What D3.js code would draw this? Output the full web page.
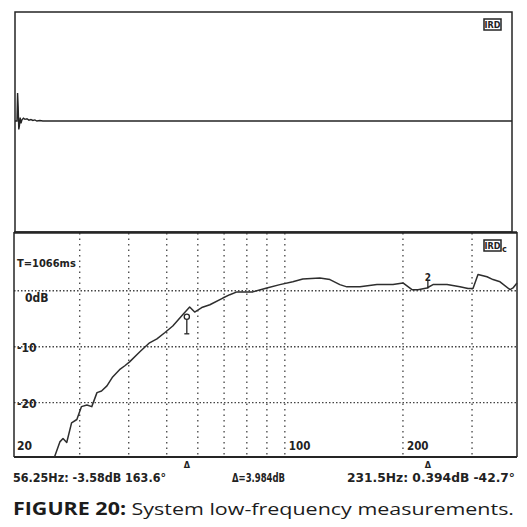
<!DOCTYPE html>
<html><head><meta charset="utf-8">
<script src="https://cdn.jsdelivr.net/npm/d3@7"></script>
<style>
html,body{margin:0;padding:0;background:#fff;}
svg{display:block;}
.mono{font-family:"DejaVu Sans Condensed","Liberation Sans Narrow",sans-serif;font-weight:bold;fill:#222;}
</style></head>
<body>
<svg id="c" width="527" height="527"></svg>
<script>
// ---- data ----
const freqHz = [25.9,26.7,27.2,27.8,28.6,29.5,30.3,31.3,32.2,33.2,34.1,35.2,36.4,37.9,39.1,40.2,42.7,45.2,47.2,49.4,51.8,54.9,57.2,58.9,61.4,64.4,69.5,72.4,75.5,82.9,90.0,97.1,104.8,111.1,122.8,130.3,138.1,143.9,155.4,171.7,188.6,200,210.9,218.5,230.2,238.6,259.1,279.5,293.0,301.7,310.7,327.6,339.3,353.6,375.0,381.6,390.6];
const levelDb = [-29.6,-27.0,-26.4,-27.1,-23.6,-23.0,-20.7,-20.4,-20.7,-18.2,-17.9,-17.0,-15.4,-14.1,-13.4,-12.7,-10.9,-9.3,-8.6,-7.5,-6.3,-4.3,-2.9,-3.8,-3.0,-2.5,-1.3,-0.7,-0.2,-0.2,0.5,1.1,1.6,2.1,2.3,2.0,1.1,0.7,0.7,1.1,1.1,1.4,0.2,0.2,0.5,1.1,1.1,0.7,0.4,0.4,2.9,2.5,2.0,1.6,0.2,0.5,1.4];
const impulseMs = [0,2.0,2.6,3.2,3.8,4.4,5.2,6.0,7.0,8.5,10,12,14,16,18,20,22,25,28,500];
const impulseAmp = [0,0,1.0,0.5,-0.3,-0.18,0.12,-0.08,0.04,0.1,0.06,0.08,0.03,0.05,0.02,0.04,0.0,0.02,0,0];
const freqGrid = [30,40,50,60,70,80,90,100,200,300];
const freqLabels = [100,200];
const dbGrid = [0,-10,-20];
const dbLabels = ["0dB","-10","-20","20"];
const dbLabelVals = [0,-10,-20,-27.5];
const markerHz = [56.25,231.5];
const markerDb = [-3.58,0.394];
const readouts = ["56.25Hz: -3.58dB  163.6°","Δ=3.984dB","231.5Hz: 0.394dB -42.7°"];
const caption = ["FIGURE 20:"," System low-frequency measurements."];
const timeLabel = "T=1066ms";

// ---- scales ----
const svg = d3.select("#c");
const ink = "#252525";
const x = d3.scaleLog().domain([20.4,390.6]).range([14,517]);
const y = d3.scaleLinear().domain([10.5,-29.7]).range([232,457]);
const tx = d3.scaleLinear().domain([0,500]).range([15,512]);
const ty = d3.scaleLinear().domain([-1,1]).range([149,93]);

// ---- top panel ----
svg.append("rect").attr("x",15).attr("y",12).attr("width",497).attr("height",220)
  .attr("fill","none").attr("stroke",ink).attr("stroke-width",1.5);
const imp = impulseMs.map((t,i)=>[t,impulseAmp[i]]);
svg.append("path").datum(imp)
  .attr("d",d3.line().x(d=>tx(d[0])).y(d=>ty(d[1])))
  .attr("fill","none").attr("stroke",ink).attr("stroke-width",1.4);
function badge(g,bx,by,sub){
  g.append("rect").attr("x",bx).attr("y",by).attr("width",17).attr("height",11)
    .attr("fill","#fff").attr("stroke",ink).attr("stroke-width",1.5);
  g.append("text").attr("x",bx+8.5).attr("y",by+9).attr("text-anchor","middle")
    .attr("class","mono").attr("font-size",9).text("IRD");
  if(sub) g.append("text").attr("x",bx+18).attr("y",by+12).attr("class","mono").attr("font-size",9).text(sub);
}
badge(svg,484,19,"");

// ---- bottom panel ----
const bp = svg.append("g");
bp.selectAll(".vg").data(freqGrid).enter().append("line")
  .attr("x1",d=>x(d)).attr("x2",d=>x(d)).attr("y1",233).attr("y2",456)
  .attr("stroke","#444").attr("stroke-width",1.3).attr("stroke-dasharray","1.5,4");
bp.selectAll(".hg").data(dbGrid).enter().append("line")
  .attr("x1",14).attr("x2",517).attr("y1",d=>y(d)).attr("y2",d=>y(d))
  .attr("stroke","#444").attr("stroke-width",1.3).attr("stroke-dasharray","1.5,2");
bp.append("line").attr("x1",14).attr("x2",14).attr("y1",232).attr("y2",457).attr("stroke",ink).attr("stroke-width",1.5);
bp.append("line").attr("x1",517).attr("x2",517).attr("y1",232).attr("y2",457).attr("stroke",ink).attr("stroke-width",1.5);
bp.append("line").attr("x1",14).attr("x2",517).attr("y1",232.5).attr("y2",232.5).attr("stroke",ink).attr("stroke-width",2.5);
bp.append("line").attr("x1",14).attr("x2",517).attr("y1",457).attr("y2",457).attr("stroke",ink).attr("stroke-width",2.2);
const curve = freqHz.map((f,i)=>[f,levelDb[i]]);
bp.append("path").datum(curve)
  .attr("d",d3.line().x(d=>x(d[0])).y(d=>y(d[1])))
  .attr("fill","none").attr("stroke","#2e2e2e").attr("stroke-width",1.5).attr("stroke-linejoin","round");
bp.append("text").attr("class","mono").attr("font-size",11).attr("x",17).attr("y",267).text(timeLabel);
bp.selectAll(".dbl").data(dbLabels).enter().append("text").attr("class","mono").attr("font-size",12)
  .attr("x",(d,i)=>i===0?25:17).attr("y",(d,i)=>y(dbLabelVals[i])+(i===0?11:5)).text(d=>d);
bp.selectAll(".fl").data(freqLabels).enter().append("text").attr("class","mono").attr("font-size",11.5)
  .attr("x",d=>x(d)+4).attr("y",450).text(d=>d);
badge(bp,484,240,"c");
const m1x = x(markerHz[0]), m1y = y(markerDb[0]);
bp.append("circle").attr("cx",m1x).attr("cy",m1y+6).attr("r",2.6).attr("fill","none").attr("stroke",ink).attr("stroke-width",1.3);
bp.append("line").attr("x1",m1x).attr("x2",m1x).attr("y1",m1y+9).attr("y2",m1y+23).attr("stroke",ink).attr("stroke-width",1.3);
bp.append("line").attr("x1",m1x-2.5).attr("x2",m1x+2.5).attr("y1",m1y+23).attr("y2",m1y+23).attr("stroke",ink).attr("stroke-width",1.3);
const m2x = x(markerHz[1]), m2y = y(markerDb[1]);
bp.append("text").attr("class","mono").attr("font-size",10).attr("text-anchor","middle").attr("x",m2x).attr("y",m2y-8).text("2");
bp.append("line").attr("x1",m2x).attr("x2",m2x).attr("y1",m2y-8).attr("y2",m2y).attr("stroke",ink).attr("stroke-width",1.3);
bp.selectAll(".tri").data(markerHz).enter().append("text").attr("class","mono").attr("font-size",9)
  .attr("text-anchor","middle").attr("x",d=>x(d)).attr("y",468).text("Δ");

const rx = [13,232,347], rw = [153,53,168];
svg.selectAll(".ro").data(readouts).enter().append("text").attr("class","mono").attr("font-size",11.5)
  .attr("x",(d,i)=>rx[i]).attr("y",482).attr("textLength",(d,i)=>rw[i]).attr("lengthAdjust","spacingAndGlyphs").text(d=>d);

const cap = svg.append("text").attr("x",13).attr("y",515).attr("font-family","'Open Sans','Noto Sans',sans-serif")
  .attr("font-size",17).attr("fill","#1c1c1c").attr("textLength",501).attr("lengthAdjust","spacingAndGlyphs");
cap.append("tspan").attr("font-weight","bold").text(caption[0]);
cap.append("tspan").text(caption[1]);
</script>
</body></html>
